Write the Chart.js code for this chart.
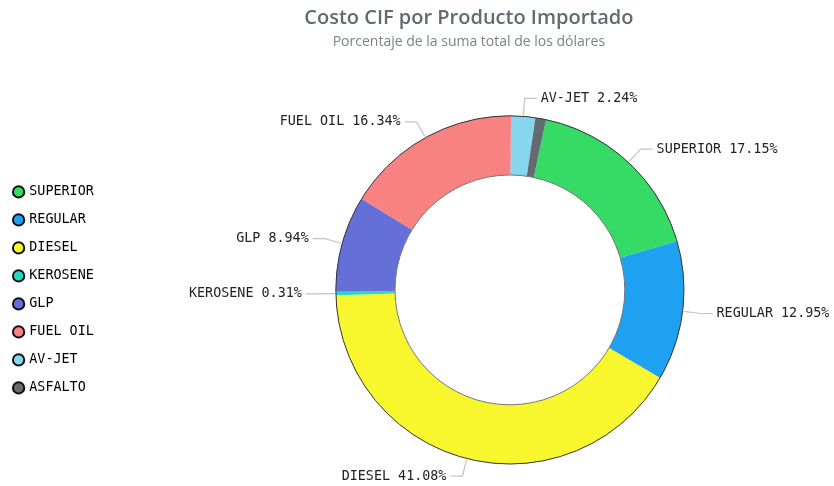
<!DOCTYPE html>
<html>
<head>
<meta charset="utf-8">
<script src="https://cdn.jsdelivr.net/npm/chart.js@4.4.1/dist/chart.umd.min.js"></script>
<style>
  html, body { margin: 0; padding: 0; background: #fff; }
  #wrap { width: 834px; height: 486px; }
</style>
</head>
<body>
<div id="wrap"><canvas id="myChart" width="834" height="486"></canvas></div>
<script>
var productos = ['SUPERIOR', 'REGULAR', 'DIESEL', 'KEROSENE', 'GLP', 'FUEL OIL', 'AV-JET', 'ASFALTO'];
var porcentajes = [17.15, 12.95, 41.08, 0.31, 8.94, 16.34, 2.24, 0.99];
var colores = ['#35db65', '#1ea1f1', '#f8f72e', '#2ad8c0', '#6470d8', '#f88181', '#86d6ef', '#626c70'];

var MONO = '"DejaVu Sans Mono", "Liberation Mono", monospace';

// mueve el area del grafico a la derecha (la leyenda queda a la izquierda)
var shiftArea = {
    id: 'shiftArea',
    afterLayout: function(chart) {
        chart.chartArea.left += 82;
    }
};

// bordes del anillo y etiquetas con linea guia
var etiquetas = {
    id: 'etiquetas',
    afterDatasetsDraw: function(chart) {
        var ctx = chart.ctx;
        var meta = chart.getDatasetMeta(0);
        if (!meta.data.length) return;
        var a0 = meta.data[0];
        ctx.save();
        ctx.strokeStyle = '#333';
        ctx.lineWidth = 1;
        ctx.beginPath();
        ctx.arc(a0.x, a0.y, a0.outerRadius, 0, Math.PI * 2);
        ctx.stroke();
        ctx.strokeStyle = '#777';
        ctx.beginPath();
        ctx.arc(a0.x, a0.y, a0.innerRadius, 0, Math.PI * 2);
        ctx.stroke();

        ctx.font = '13.4px ' + MONO;
        ctx.textBaseline = 'middle';
        var placed = [];
        meta.data.forEach(function(arc, i) {
            var mid = (arc.startAngle + arc.endAngle) / 2;
            var r = arc.outerRadius;
            var x1 = arc.x + Math.cos(mid) * (r + 1);
            var y1 = arc.y + Math.sin(mid) * (r + 1);
            var x2 = arc.x + Math.cos(mid) * (r + 18);
            var y2 = arc.y + Math.sin(mid) * (r + 18);
            var right = Math.cos(mid) >= 0;
            var x3 = x2 + (right ? 12 : -12);
            var txt = productos[i] + ' ' + porcentajes[i].toFixed(2) + '%';
            var w = ctx.measureText(txt).width;
            var tx = right ? x3 + 4 : x3 - 4;
            var box = {l: right ? tx : tx - w, r: right ? tx + w : tx, t: y2 - 8, b: y2 + 8};
            var hit = placed.some(function(p) {
                return box.l < p.r && box.r > p.l && box.t < p.b && box.b > p.t;
            });
            if (hit) return;
            placed.push(box);
            ctx.strokeStyle = '#c8c2bc';
            ctx.lineWidth = 1.2;
            ctx.beginPath();
            ctx.moveTo(x1, y1);
            ctx.lineTo(x2, y2);
            ctx.lineTo(x3, y2);
            ctx.stroke();
            ctx.fillStyle = '#222';
            ctx.textAlign = right ? 'left' : 'right';
            ctx.fillText(txt, tx, y2);
        });
        ctx.restore();
    }
};

var ctx = document.getElementById('myChart').getContext('2d');
var myDoughnutChart = new Chart(ctx, {
    type: 'doughnut',
    data: {
        labels: productos,
        datasets: [{
            data: porcentajes,
            backgroundColor: colores,
            borderWidth: 0
        }]
    },
    options: {
        responsive: false,
        animation: false,
        cutout: '66%',
        rotation: 12,
        layout: { padding: { bottom: 22 } },
        plugins: {
            tooltip: { enabled: false },
            title: {
                display: true,
                fullSize: false,
                text: 'Costo CIF por Producto Importado',
                color: '#5f6b70',
                font: { family: '"Open Sans", sans-serif', size: 20, weight: '600' },
                padding: { top: 6, bottom: 0 }
            },
            subtitle: {
                display: true,
                fullSize: false,
                text: 'Porcentaje de la suma total de los dólares',
                color: '#7b8387',
                font: { family: '"Open Sans", sans-serif', size: 14 },
                padding: { top: 4, bottom: 65 }
            },
            legend: {
                position: 'left',
                fullSize: false,
                labels: {
                    usePointStyle: true,
                    pointStyle: 'circle',
                    boxWidth: 8,
                    boxHeight: 8,
                    padding: 14.6,
                    color: '#707070',
                    font: { family: MONO, size: 13.4 },
                    generateLabels: function(chart) {
                        return productos.map(function(p, i) {
                            return {
                                text: p,
                                fillStyle: colores[i],
                                strokeStyle: '#111',
                                lineWidth: 2,
                                pointStyle: 'circle',
                                index: i,
                                hidden: false
                            };
                        });
                    }
                }
            }
        }
    },
    plugins: [shiftArea, etiquetas]
});
</script>
</body>
</html>
